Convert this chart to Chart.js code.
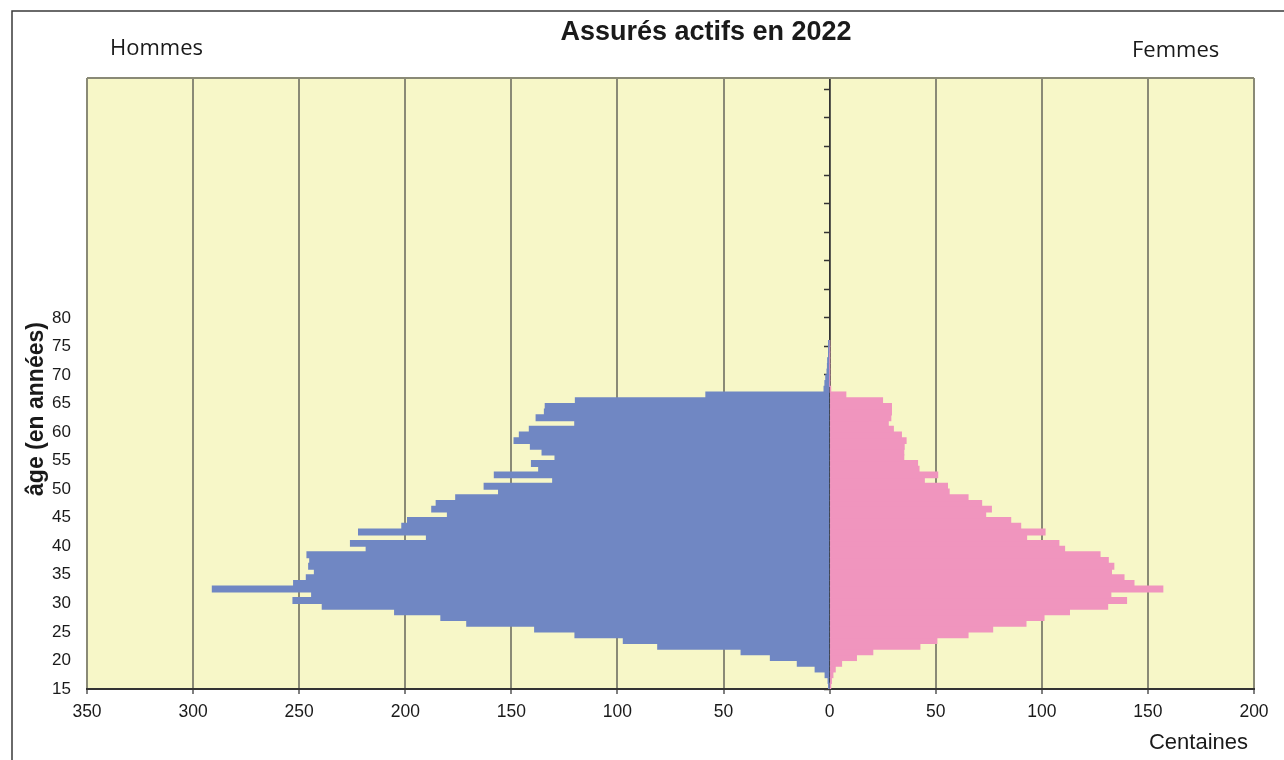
<!DOCTYPE html>
<html>
<head>
<meta charset="utf-8">
<script src="https://cdn.jsdelivr.net/npm/chart.js@4/dist/chart.umd.min.js"></script>
<style>
  body { margin: 0; background: #fff; }
  #wrap { width: 1284px; height: 760px; }
</style>
</head>
<body>
<div id="wrap"><canvas id="chart" width="1284" height="760"></canvas></div>
<script>
// ages 15..75, values in centaines
const ages = [15, 16, 17, 18, 19, 20, 21, 22, 23, 24,
    25, 26, 27, 28, 29, 30, 31, 32, 33, 34,
    35, 36, 37, 38, 39, 40, 41, 42, 43, 44,
    45, 46, 47, 48, 49, 50, 51, 52, 53, 54,
    55, 56, 57, 58, 59, 60, 61, 62, 63, 64,
    65, 66, 67, 68, 69, 70, 71, 72, 73, 74, 75];
const hommes = [0.3, 0.7, 2.1, 6.8, 15.2, 27.9, 41.7, 81, 97.2, 120,
    139, 171, 183.2, 205, 239.1, 252.9, 244.1, 290.9, 252.6, 246.6,
    242.8, 245.5, 245, 246.3, 218.4, 225.8, 190, 222, 201.6, 198.9,
    180.1, 187.5, 185.4, 176.2, 156, 162.8, 130.5, 158, 137.1, 140.5,
    129.4, 135.5, 141, 148.7, 146.2, 141.5, 120.1, 138.3, 134.4, 134,
    119.8, 58.3, 2.6, 2.2, 1.8, 1.2, 1.0, 0.9, 0.5, 0.4, 0.3];
const femmes = [0.3, 0.8, 1.5, 2.6, 5.6, 12.6, 20.3, 42.5, 50.5, 65.2,
    76.8, 92.5, 101, 113, 131, 139.9, 132.5, 157, 143.4, 138.7,
    132.8, 133.9, 131.3, 127.4, 110.7, 108, 92.8, 101.5, 90, 85.3,
    73.5, 76.2, 71.6, 65.2, 56.3, 55.5, 44.6, 50.9, 42.1, 41.4,
    34.9, 34.9, 35.1, 36, 33.8, 30, 27.6, 28.8, 29.1, 29.1,
    24.9, 7.6, 0.3, 0, 0, 0, 0, 0, 0, 0, 0];
const xTicks = [-350, -300, -250, -200, -150, -100, -50, 0, 50, 100, 150, 200];
const ageTicks = [15, 20, 25, 30, 35, 40, 45, 50, 55, 60, 65, 70, 75, 80,
    85, 90, 95, 100, 105, 110, 115, 120];
const ageLabelMax = 80;

const yMin = 15, yMax = 122;
const gridColor = '#8a8a76';

// each age bar covers [age, age+1]
const menData = ages.map((a, i) => ({ x: -hommes[i], y: a + 0.5 }));
const womenData = ages.map((a, i) => ({ x: femmes[i], y: a + 0.5 }));

const setAgeTicks = scale => {
    scale.ticks = ageTicks.map(v => ({ value: v }));
};

const decor = {
    id: 'decor',
    beforeDraw(chart) {
        const { ctx, chartArea: a } = chart;
        ctx.save();
        ctx.fillStyle = '#f7f7c8';
        ctx.fillRect(a.left, a.top, a.right - a.left, a.bottom - a.top);
        // outer frame
        ctx.strokeStyle = '#3a3a3a';
        ctx.lineWidth = 1.5;
        ctx.beginPath();
        ctx.moveTo(12, 760);
        ctx.lineTo(12, 11);
        ctx.lineTo(1284, 11);
        ctx.stroke();
        ctx.restore();
    },
    afterDraw(chart) {
        const { ctx, chartArea: a } = chart;
        ctx.save();
        ctx.strokeStyle = gridColor;
        ctx.lineWidth = 2;
        ctx.beginPath();
        ctx.moveTo(a.left, a.top);
        ctx.lineTo(a.right, a.top);
        ctx.stroke();

        ctx.fillStyle = '#1a1a1a';
        ctx.textBaseline = 'middle';
        ctx.textAlign = 'center';
        ctx.font = 'bold 27px "Liberation Sans", Arial, sans-serif';
        ctx.fillText('Assurés actifs en 2022', 706, 33);

        ctx.font = '22px "Open Sans", sans-serif';
        ctx.textAlign = 'left';
        ctx.fillText('Hommes', 110, 49);
        ctx.fillText('Femmes', 1132, 51);

        ctx.font = '22px "Liberation Sans", Arial, sans-serif';
        ctx.textAlign = 'right';
        ctx.fillText('Centaines', 1248, 743);

        ctx.translate(37, 409);
        ctx.rotate(-Math.PI / 2);
        ctx.textAlign = 'center';
        ctx.font = 'bold 23px "Liberation Sans", Arial, sans-serif';
        ctx.fillText('âge (en années)', 0, 0);
        ctx.restore();
    }
};

new Chart(document.getElementById('chart'), {
    type: 'bar',
    data: {
        datasets: [{
                label: 'Hommes',
                data: menData,
                backgroundColor: '#7087c3'
            },
            {
                label: 'Femmes',
                data: womenData,
                backgroundColor: '#f095be'
            }
        ]
    },
    options: {
        responsive: false,
        animation: false,
        indexAxis: 'y',
        grouped: false,
        barPercentage: 1,
        categoryPercentage: 1,
        borderWidth: 0,
        inflateAmount: 0.6,
        layout: { padding: { top: 78, right: 30, left: 0, bottom: 0 } },
        plugins: { legend: { display: false }, tooltip: { enabled: false } },
        scales: {
            x: {
                type: 'linear',
                min: -350,
                max: 200,
                afterBuildTicks: scale => { scale.ticks = xTicks.map(v => ({ value: v })); },
                afterFit: scale => { scale.height = 71; },
                ticks: {
                    callback: v => Math.abs(v),
                    color: '#1a1a1a',
                    font: { family: '"Liberation Sans", Arial', size: 17.5 },
                    padding: 8,
                    maxRotation: 0
                },
                grid: { color: gridColor, lineWidth: 2, tickLength: 5, tickColor: '#555', tickWidth: 1.5 },
                border: { color: '#333', width: 2 }
            },
            y: {
                type: 'linear',
                offset: false,
                min: yMin,
                max: yMax,
                afterBuildTicks: setAgeTicks,
                afterFit: scale => { scale.width = 87; },
                ticks: {
                    callback: v => (v <= ageLabelMax ? v : ''),
                    color: '#1a1a1a',
                    font: { family: '"Liberation Sans", Arial', size: 17 },
                    padding: 16,
                    autoSkip: false
                },
                grid: { display: false, drawTicks: false, offset: false },
                border: { display: false }
            },
            y2: {
                type: 'linear',
                offset: false,
                position: { x: 0 },
                min: yMin,
                max: yMax,
                afterBuildTicks: setAgeTicks,
                ticks: { display: false, autoSkip: false },
                grid: { drawOnChartArea: false, offset: false, tickLength: 5, tickColor: '#333', tickWidth: 1.5 },
                border: { color: '#333', width: 1.5 }
            }
        }
    },
    plugins: [decor]
});
</script>
</body>
</html>
